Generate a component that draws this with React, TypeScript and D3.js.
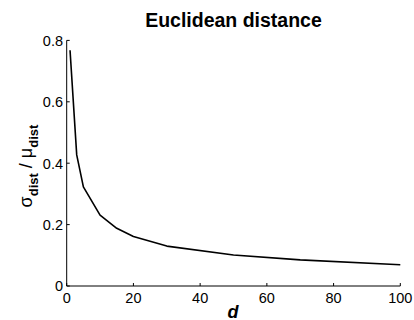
import * as d3 from 'd3';

const dims = [1, 3, 5, 10, 15, 20, 30, 50, 70, 100];
const ratio = [0.768, 0.427, 0.323, 0.231, 0.188, 0.161, 0.13, 0.101, 0.085, 0.069];
const xTicks = [0, 20, 40, 60, 80, 100];
const yTicks = [0, 0.2, 0.4, 0.6, 0.8];

const W = 414;
const H = 320;
const font = '"Liberation Sans", Arial, Helvetica, sans-serif';

export default function App() {
  const x = d3.scaleLinear().domain([0, 100]).range([66.7, 400.3]);
  const y = d3.scaleLinear().domain([0, 0.8]).range([286, 40.4]);

  const line = d3
    .line<number>()
    .x((_, i) => x(dims[i]))
    .y((v) => y(v));

  const tickLen = 3;

  return (
    <svg
      width={W}
      height={H}
      style={{ position: 'absolute', left: 0, top: 0, background: '#fff' }}
      fontFamily={font}
    >
      {/* title */}
      <text x={233.5} y={26.7} textAnchor="middle" fontSize={19.5} fontWeight="bold">
        Euclidean distance
      </text>

      {/* axes */}
      <line x1={x(0)} x2={x(100)} y1={y(0)} y2={y(0)} stroke="#000" strokeWidth={1} />
      <line x1={x(0)} x2={x(0)} y1={y(0)} y2={y(0.8)} stroke="#000" strokeWidth={1} />

      {xTicks.map((t) => (
        <g key={'x' + t}>
          <line x1={x(t)} x2={x(t)} y1={y(0)} y2={y(0) - tickLen} stroke="#000" />
          <text x={x(t)} y={303} textAnchor="middle" fontSize={14.5}>
            {t}
          </text>
        </g>
      ))}

      {yTicks.map((t) => (
        <g key={'y' + t}>
          <line x1={x(0)} x2={x(0) + tickLen} y1={y(t)} y2={y(t)} stroke="#000" />
          <text x={63} y={y(t) + 5.3} textAnchor="end" fontSize={14.5}>
            {t === 0 ? '0' : t.toFixed(1)}
          </text>
        </g>
      ))}

      {/* data */}
      <path d={line(ratio) ?? ''} fill="none" stroke="#000" strokeWidth={1.6} strokeLinejoin="round" />

      {/* x label */}
      <text x={233} y={318} textAnchor="middle" fontSize={18} fontWeight="bold" fontStyle="italic">
        d
      </text>

      {/* y label */}
      <text transform="translate(31.7,166) rotate(-90)" textAnchor="middle" fontSize={18}>
        <tspan>σ</tspan>
        <tspan fontSize={13} fontWeight="bold" dy={6}>dist</tspan>
        <tspan dy={-6}> / </tspan>
        <tspan>μ</tspan>
        <tspan fontSize={13} fontWeight="bold" dy={6}>dist</tspan>
      </text>
    </svg>
  );
}
